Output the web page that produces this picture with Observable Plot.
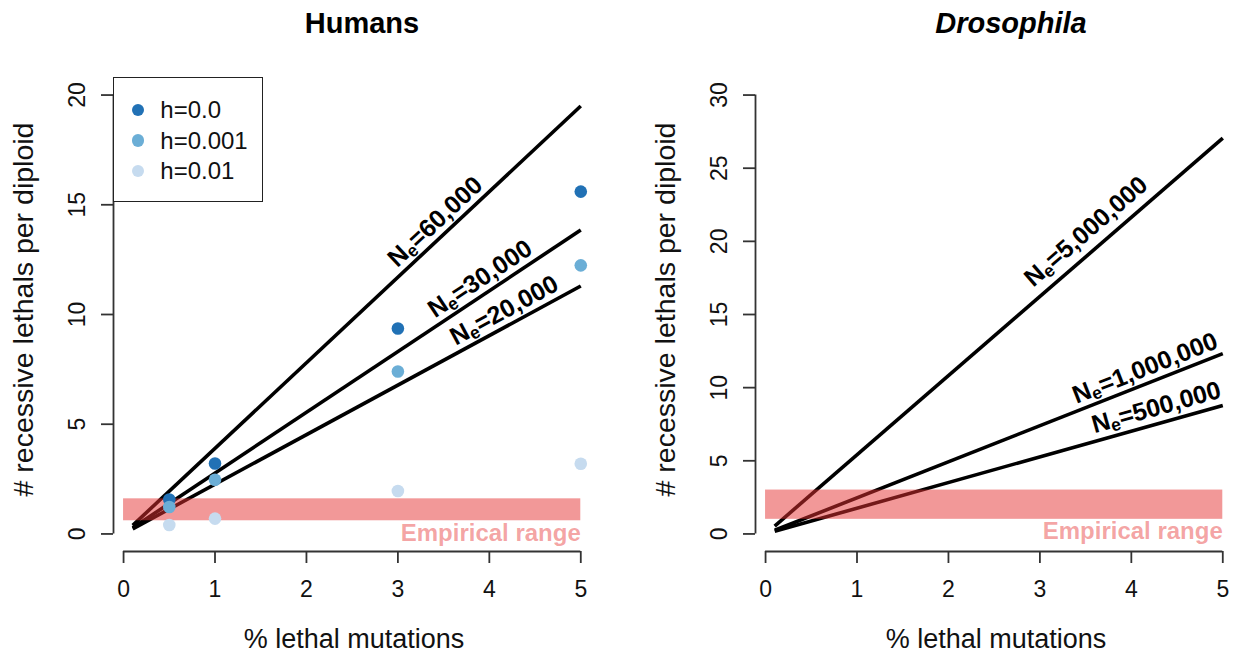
<!DOCTYPE html>
<html>
<head>
<meta charset="utf-8">
<script src="https://cdn.jsdelivr.net/npm/d3@7"></script>
<script src="https://cdn.jsdelivr.net/npm/@observablehq/plot@0.6"></script>
<style>
html,body{margin:0;padding:0;background:#fff;overflow:hidden;}
#page{position:relative;width:1236px;height:652px;font-family:"Liberation Sans",Arial,Helvetica,sans-serif;color:#111;}
.panel{position:absolute;top:0;}
.panel svg{overflow:visible;}
.panel [aria-label*="axis"] line,.panel [aria-label*="axis"] path{stroke:#333;stroke-width:1.8px;}
.legend{position:absolute;box-sizing:border-box;border:1.5px solid #222;background:#fff;}
.legend .row{position:absolute;display:flex;align-items:center;height:24px;font-size:24px;line-height:24px;white-space:nowrap;}
.legend .dot{display:inline-block;width:12.6px;height:12.6px;border-radius:50%;}
</style>
</head>
<body>
<div id="page"></div>
<script>
// ---------------- data ----------------
const xTicks = [0, 1, 2, 3, 4, 5];
const humanYTicks = [0, 5, 10, 15, 20];
const droYTicks = [0, 5, 10, 15, 20, 25, 30];

const lineX = [0.1, 5];
const humanNe = ["60,000", "30,000", "20,000"];
const humanLineStart = [0.39, 0.28, 0.23];
const humanLineEnd = [19.5, 13.85, 11.3];
const humanLabelX = [3.52, 3.99, 4.24];

const droNe = ["5,000,000", "1,000,000", "500,000"];
const droLineStart = [0.54, 0.25, 0.18];
const droLineEnd = [27.05, 12.33, 8.78];
const droLabelX = [3.64, 4.21, 4.32];

const hLabels = ["h=0.0", "h=0.001", "h=0.01"];
const hColors = ["#2171b5", "#6baed6", "#c6dbef"];
const humanPointX = [0.5, 1, 3, 5];
const humanH0 = [1.57, 3.21, 9.36, 15.6];
const humanH001 = [1.23, 2.47, 7.4, 12.24];
const humanH01 = [0.41, 0.70, 1.96, 3.2];

const bandX = [0, 5];
const humanBand = [0.6, 1.6];
const droBand = [1, 3];
const bandLabel = "Empirical range";

const titles = ["Humans", "Drosophila"];
const xLabel = "% lethal mutations";
const yLabel = "# recessive lethals per diploid";

// ---------------- layout ----------------
const H = 652, mT = 77, mB = 101, mL = 113;
const xDomain = [-0.11, 5.15];
const font = '"Liberation Sans", Arial, Helvetica, sans-serif';

function panel(cfg) {
  const {width, mR, yDomain, yTicks, ne, start, end, labelX, labelGap, series, band, title, italic, titleDx} = cfg;
  const kx = (width - mL - mR) / (xDomain[1] - xDomain[0]);
  const ky = (H - mT - mB) / (yDomain[1] - yDomain[0]);
  const lineData = ne.flatMap((n, i) => lineX.map((x, j) => ({ne: n, x, y: j ? end[i] : start[i]})));
  const labelMarks = ne.map((n, i) => {
    const s = (end[i] - start[i]) / (lineX[1] - lineX[0]);
    const a = -Math.atan(s * ky / kx);
    const lx = labelX[i], ly = start[i] + s * (lx - lineX[0]);
    const d = labelGap[i];
    return Plot.text([{x: lx, y: ly, t: "Ne=" + n}], {
      x: "x", y: "y", text: "t", rotate: a * 180 / Math.PI,
      dx: d * Math.sin(a), dy: -d * Math.cos(a),
      lineAnchor: "bottom", textAnchor: "middle",
      fontSize: 25, fontWeight: "bold", fill: "#000"
    });
  });
  const pointMarks = series.map((vals, k) => Plot.dot(
    humanPointX.map((x, j) => ({x, y: vals[j]})),
    {x: "x", y: "y", r: 6.3, fill: hColors[k], stroke: "none"}
  ));
  const svg = Plot.plot({
    width, height: H,
    marginLeft: mL, marginRight: mR, marginTop: mT, marginBottom: mB,
    style: {fontFamily: font, fontSize: "23px", color: "#111", background: "transparent", overflow: "visible"},
    x: {domain: xDomain, ticks: xTicks, tickSize: 12, tickFormat: () => "", label: null},
    y: {domain: yDomain, ticks: yTicks, tickSize: 12, tickFormat: () => "", label: null},
    marks: [
      Plot.ruleX([xDomain[0]], {x: d => d, y1: () => yTicks[0], y2: () => yTicks[yTicks.length - 1], stroke: "#333", strokeWidth: 1.8}),
      Plot.ruleY([yDomain[0]], {y: d => d, x1: () => xTicks[0], x2: () => xTicks[xTicks.length - 1], stroke: "#333", strokeWidth: 1.8}),
      Plot.text(xTicks, {x: d => d, frameAnchor: "bottom", text: d => String(d), dy: 29, lineAnchor: "top", fontSize: 23, fill: "#111"}),
      Plot.text(yTicks, {y: d => d, frameAnchor: "left", text: d => String(d), rotate: -90, dx: -29, lineAnchor: "bottom", textAnchor: "middle", fontSize: 23, fill: "#111"}),
      Plot.line(lineData, {x: "x", y: "y", z: "ne", stroke: "#000", strokeWidth: 3.6, strokeLinecap: "butt"}),
      Plot.rect([band], {x1: () => bandX[0], x2: () => bandX[1], y1: b => b[0], y2: b => b[1], fill: "#e63232", fillOpacity: 0.5}),
      ...pointMarks,
      Plot.text([bandLabel], {x: () => bandX[1], y: () => band[0], text: d => d, textAnchor: "end", lineAnchor: "top", dy: 3, fontSize: 24, fontWeight: "bold", fill: "#e63232", fillOpacity: 0.45}),
      ...labelMarks,
      Plot.text([title], {frameAnchor: "top", text: d => d, dy: -45, dx: titleDx, lineAnchor: "bottom", fontSize: 29, fontWeight: "bold", fontStyle: italic ? "italic" : "normal", fill: "#000"}),
      Plot.text([yLabel], {frameAnchor: "left", text: d => d, rotate: -90, dx: -81, dy: -5, lineAnchor: "bottom", textAnchor: "middle", fontSize: 28.5, fill: "#111"}),
      Plot.text([xLabel], {frameAnchor: "bottom", text: d => d, dy: 96, lineAnchor: "bottom", fontSize: 27, fill: "#111"})
    ]
  });
  // subscript "e" in N_e labels
  d3.select(svg).selectAll("text").each(function () {
    const t = this.textContent;
    if (t && t.startsWith("Ne=")) {
      const sel = d3.select(this);
      this.textContent = "";
      sel.append("tspan").text("N");
      sel.append("tspan").attr("font-size", "0.7em").attr("dy", 3.5).text("e");
      sel.append("tspan").attr("dy", -3.5).text(t.slice(2));
    }
  });
  return svg;
}

const page = document.getElementById("page");

const left = document.createElement("div");
left.className = "panel";
left.style.left = "0px";
left.appendChild(panel({
  width: 642, mR: 48, yDomain: [-0.8, 20.8], yTicks: humanYTicks,
  ne: humanNe, start: humanLineStart, end: humanLineEnd, labelX: humanLabelX, labelGap: [7, 7, 7],
  series: [humanH0, humanH001, humanH01], band: humanBand,
  title: titles[0], italic: false, titleDx: 8
}));
page.appendChild(left);

const right = document.createElement("div");
right.className = "panel";
right.style.left = "642px";
right.appendChild(panel({
  width: 594, mR: 0, yDomain: [-1.2, 31.2], yTicks: droYTicks,
  ne: droNe, start: droLineStart, end: droLineEnd, labelX: droLabelX, labelGap: [11, 7, 8],
  series: [], band: droBand,
  title: titles[1], italic: true, titleDx: 15
}));
page.appendChild(right);

// legend (HTML overlay, top-left of the Humans plot region)
const legend = document.createElement("div");
legend.className = "legend";
legend.style.left = mL + "px";
legend.style.top = mT + "px";
legend.style.width = "150px";
legend.style.height = "125px";
hLabels.forEach((lab, i) => {
  const row = document.createElement("div");
  row.className = "row";
  row.style.left = "17.7px";
  row.style.top = (32 + i * 30.5 - 12) + "px";
  const dot = document.createElement("span");
  dot.className = "dot";
  dot.style.background = hColors[i];
  const txt = document.createElement("span");
  txt.textContent = lab;
  txt.style.marginLeft = "16px";
  row.appendChild(dot);
  row.appendChild(txt);
  legend.appendChild(row);
});
page.appendChild(legend);
</script>
</body>
</html>
